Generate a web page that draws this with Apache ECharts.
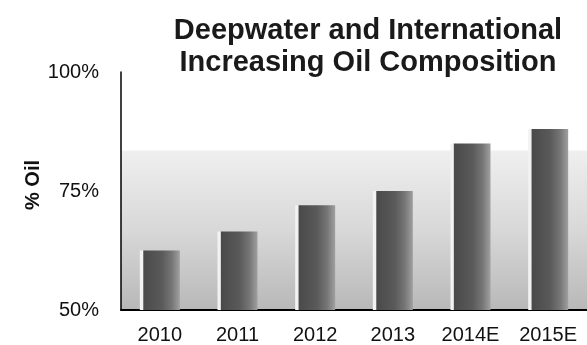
<!DOCTYPE html>
<html>
<head>
<meta charset="utf-8">
<style>
  html, body { margin: 0; padding: 0; background: #ffffff; }
  #chart { width: 587px; height: 345px; }
</style>
<script src="https://cdn.jsdelivr.net/npm/echarts@6/dist/echarts.min.js"></script>
</head>
<body>
<div id="chart"></div>
<script>
// Share of oil in production, by year (E = estimate)
const years = ['2010', '2011', '2012', '2013', '2014E', '2015E'];
const oilShare = [62.5, 66.5, 72, 75, 85, 88];
const yTicks = [50, 75, 100];
// Level of the shaded backdrop behind the bars
const backdropTop = 83.5;

const chart = echarts.init(document.getElementById('chart'));

const font = 'Liberation Sans, Arial, sans-serif';

chart.setOption({
  animation: false,
  backgroundColor: '#ffffff',
  title: {
    text: 'Deepwater and International\nIncreasing Oil Composition',
    left: 363,
    top: 10,
    textAlign: 'center',
    textStyle: {
      fontFamily: font,
      fontSize: 29,
      fontWeight: 'bold',
      color: '#1a1a1a',
      lineHeight: 32
    }
  },
  // Rotated y-axis title
  graphic: [{
    type: 'text',
    x: 33,
    y: 185,
    rotation: Math.PI / 2,
    style: {
      text: '% Oil',
      fontFamily: font,
      fontSize: 20,
      fontWeight: 'bold',
      fill: '#111',
      align: 'center',
      verticalAlign: 'middle'
    }
  }],
  grid: {
    left: 121,
    top: 72,
    width: 474,
    height: 239,
    containLabel: false
  },
  xAxis: {
    type: 'category',
    data: years,
    boundaryGap: true,
    axisLine: { show: true, lineStyle: { color: '#000', width: 2 } },
    axisTick: { show: false },
    axisLabel: {
      fontFamily: font,
      fontSize: 20,
      color: '#111',
      margin: 15,
      interval: 0
    },
    splitLine: { show: false }
  },
  yAxis: {
    type: 'value',
    min: yTicks[0],
    max: yTicks[yTicks.length - 1],
    interval: yTicks[1] - yTicks[0],
    axisLine: { show: true, lineStyle: { color: '#000', width: 1.5 } },
    axisTick: { show: false },
    axisLabel: {
      fontFamily: font,
      fontSize: 20,
      color: '#111',
      margin: 22,
      formatter: '{value}%'
    },
    splitLine: { show: false }
  },
  series: [{
    type: 'bar',
    data: oilShare,
    barWidth: 40,
    itemStyle: {
      color: new echarts.graphic.LinearGradient(0, 0, 1, 0, [
        { offset: 0, color: '#f2f2f2' },
        { offset: 0.07, color: '#f2f2f2' },
        { offset: 0.1, color: '#4a4a4a' },
        { offset: 0.55, color: '#5a5a5a' },
        { offset: 0.8, color: '#767676' },
        { offset: 1, color: '#a0a0a0' }
      ]),
      borderWidth: 0
    },
    markArea: {
      silent: true,
      z: -1,
      itemStyle: {
        color: new echarts.graphic.LinearGradient(0, 0, 0, 1, [
          { offset: 0, color: '#efefef' },
          { offset: 0.5, color: '#d8d8d8' },
          { offset: 1, color: '#b8b8b8' }
        ])
      },
      data: [[{ yAxis: yTicks[0] }, { yAxis: backdropTop }]]
    }
  }]
});
</script>
</body>
</html>
